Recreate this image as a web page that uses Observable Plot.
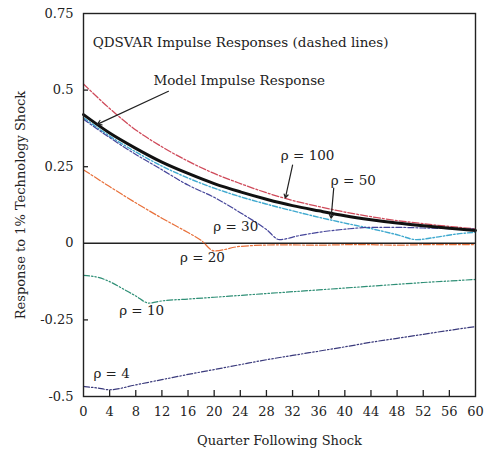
<!DOCTYPE html>
<html>
<head>
<meta charset="utf-8">
<script src="https://cdn.jsdelivr.net/npm/d3@7"></script>
<script src="https://cdn.jsdelivr.net/npm/@observablehq/plot@0.6"></script>
<style>
  html, body { margin: 0; padding: 0; background: #fff; }
  #chart svg { display: block; }
</style>
</head>
<body>
<div id="chart"></div>
<script>
// ---- Data ----
const xTicks = [0, 4, 8, 12, 16, 20, 24, 28, 32, 36, 40, 44, 48, 52, 56, 60];
const yTicks = [-0.5, -0.25, 0, 0.25, 0.5, 0.75];
const yTickLabels = ["-0.5", "-0.25", "0", "0.25", "0.5", "0.75"];

const modelQ = [0, 4, 8, 12, 16, 20, 24, 28, 32, 36, 40, 44, 48, 52, 56, 60];
const modelV = [0.42, 0.36, 0.31, 0.265, 0.228, 0.195, 0.168, 0.144, 0.123, 0.106, 0.09, 0.077, 0.066, 0.057, 0.049, 0.042];

const rho100Q = [0, 4, 8, 12, 16, 20, 24, 28, 32, 36, 40, 44, 48, 52, 56, 60];
const rho100V = [0.52, 0.44, 0.37, 0.315, 0.268, 0.228, 0.195, 0.165, 0.14, 0.12, 0.102, 0.087, 0.074, 0.064, 0.055, 0.047];

const rho50Q = [0, 4, 8, 12, 16, 20, 24, 28, 32, 36, 40, 44, 48, 51, 54, 57, 60];
const rho50V = [0.41, 0.35, 0.298, 0.252, 0.213, 0.18, 0.152, 0.128, 0.106, 0.085, 0.066, 0.048, 0.028, 0.012, 0.02, 0.03, 0.036];

const rho30Q = [0, 4, 8, 12, 16, 20, 24, 28, 30, 33, 36, 40, 44, 48, 52, 56, 60];
const rho30V = [0.405, 0.345, 0.29, 0.24, 0.19, 0.15, 0.1, 0.045, 0.012, 0.025, 0.036, 0.046, 0.052, 0.052, 0.05, 0.048, 0.046];

const rho20Q = [0, 4, 8, 12, 16, 18, 20, 24, 30, 36, 42, 48, 54, 60];
const rho20V = [0.24, 0.185, 0.132, 0.082, 0.035, 0.01, -0.025, -0.01, -0.005, -0.006, -0.004, -0.006, -0.004, -0.004];

const rho10Q = [0, 2, 4, 6, 8, 10, 12, 16, 20, 24, 28, 32, 36, 40, 44, 48, 52, 56, 60];
const rho10V = [-0.105, -0.11, -0.125, -0.148, -0.172, -0.195, -0.188, -0.182, -0.176, -0.17, -0.164, -0.158, -0.152, -0.146, -0.14, -0.134, -0.128, -0.123, -0.118];

const rho4Q = [0, 2, 4, 8, 12, 16, 20, 24, 28, 32, 36, 40, 44, 48, 52, 56, 60];
const rho4V = [-0.467, -0.472, -0.478, -0.462, -0.445, -0.428, -0.412, -0.396, -0.38, -0.366, -0.352, -0.338, -0.323, -0.31, -0.297, -0.284, -0.272];

// annotation texts and their anchor points (data units)
const labelTexts = ["ρ = 100", "ρ = 50", "ρ = 30", "ρ = 20", "ρ = 10", "ρ = 4"];
const labelQ = [34.3, 41.3, 23.3, 18.2, 8.9, 4.3];
const labelV = [0.287, 0.206, 0.055, -0.046, -0.219, -0.424];

const titleText = "QDSVAR Impulse Responses (dashed lines)";
const modelText = "Model Impulse Response";

// ---- build ----
const FONT = "'DejaVu Serif', 'Liberation Serif', serif";
const toPts = (q, v) => q.map((x, i) => ({x, y: v[i]}));
const series = [
  {pts: toPts(rho100Q, rho100V), color: "#cf4a5a", dash: "7,2,2,2", w: 1.3},
  {pts: toPts(rho50Q, rho50V), color: "#3fa9cf", dash: "5,2,1.5,2", w: 1.4},
  {pts: toPts(rho30Q, rho30V), color: "#45459a", dash: "6,2,2,2", w: 1.2},
  {pts: toPts(rho20Q, rho20V), color: "#e8703a", dash: "7,2,2,2", w: 1.2},
  {pts: toPts(rho10Q, rho10V), color: "#2f8f76", dash: "6,2,1.5,2,1.5,2", w: 1.2},
  {pts: toPts(rho4Q, rho4V), color: "#3a3a7c", dash: "6,2,1.5,2,1.5,2", w: 1.2}
];
const labels = labelTexts.map((t, i) => ({t, x: labelQ[i], y: labelV[i]}));

const W = 487, H = 455;
const mL = 83, mR = 12, mT = 13, mB = 59;
const xDom = [0, 60], yDom = [-0.5, 0.75];
const tickLenY = (yDom[1] - yDom[0]) * 6 / (H - mT - mB);
const tickLenX = (xDom[1] - xDom[0]) * 5 / (W - mL - mR);
const innerX = xTicks.slice(1, -1);
const innerY = yTicks.slice(1, -1).filter(d => d !== 0);

const chart = Plot.plot({
  width: W,
  height: H,
  marginLeft: mL,
  marginRight: mR,
  marginTop: mT,
  marginBottom: mB,
  style: {fontSize: "13px", color: "#222", background: "#fff", fontFamily: FONT},
  x: {domain: xDom},
  y: {domain: yDom},
  marks: [
    Plot.axisX({ticks: xTicks, tickSize: 0, tickPadding: 10, tickFormat: d => String(d), fontFamily: FONT, fontSize: 13,
      label: "Quarter Following Shock", labelArrow: false, labelAnchor: "center", labelOffset: 48}),
    Plot.axisY({ticks: yTicks, tickSize: 0, tickPadding: 10, tickFormat: d => yTickLabels[yTicks.indexOf(d)], fontFamily: FONT, fontSize: 13,
      label: "Response to 1% Technology Shock", labelArrow: false, labelAnchor: "center", labelOffset: 68}),
    Plot.ruleX(innerX, {x: d => d, y1: yDom[0], y2: yDom[0] + tickLenY, stroke: "#222", strokeWidth: 1.3}),
    Plot.ruleY(innerY, {y: d => d, x1: xDom[0], x2: xDom[0] + tickLenX, stroke: "#222", strokeWidth: 1.3}),
    Plot.ruleY([0], {stroke: "#222", strokeWidth: 1.6}),
    ...series.map(s => Plot.line(s.pts, {x: "x", y: "y", stroke: s.color, strokeWidth: s.w, strokeDasharray: s.dash, curve: "monotone-x"})),
    Plot.line(toPts(modelQ, modelV), {x: "x", y: "y", stroke: "#111", strokeWidth: 3, curve: "monotone-x"}),
    Plot.frame({stroke: "#222", strokeWidth: 1.4}),
    Plot.text([titleText], {x: 1.4, y: 0.656, text: d => d, textAnchor: "start", fontSize: 13.5, fontFamily: FONT, fill: "#222"}),
    Plot.text([modelText], {x: 10.7, y: 0.532, text: d => d, textAnchor: "start", fontSize: 13.5, fontFamily: FONT, fill: "#222"}),
    Plot.arrow([{x1: 13.0, y1: 0.496, x2: 2.1, y2: 0.388}], {x1: "x1", y1: "y1", x2: "x2", y2: "y2", stroke: "#222", strokeWidth: 1.2, headLength: 6}),
    Plot.arrow([{x1: 32.0, y1: 0.255, x2: 30.9, y2: 0.148}], {x1: "x1", y1: "y1", x2: "x2", y2: "y2", stroke: "#222", strokeWidth: 1.2, headLength: 5}),
    Plot.arrow([{x1: 38.3, y1: 0.18, x2: 37.9, y2: 0.082}], {x1: "x1", y1: "y1", x2: "x2", y2: "y2", stroke: "#222", strokeWidth: 1.2, headLength: 5}),
    Plot.text(labels, {x: "x", y: "y", text: "t", fontSize: 13.5, fontFamily: FONT, fill: "#222"})
  ]
});
document.getElementById("chart").append(chart);
</script>
</body>
</html>
